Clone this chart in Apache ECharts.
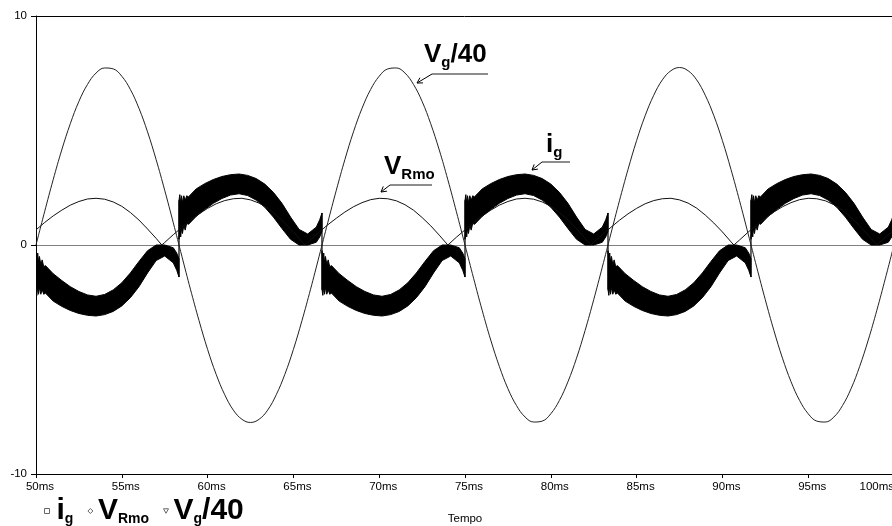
<!DOCTYPE html>
<html>
<head>
<meta charset="utf-8">
<script src="https://cdn.jsdelivr.net/npm/echarts@6/dist/echarts.min.js"></script>
<style>
  html, body { margin: 0; padding: 0; background: #fff; }
  #chart { width: 892px; height: 526px; }
</style>
</head>
<body>
<div id="chart"></div>
<script>
// 采样时刻 (ms), 每 0.5ms 一个点
const time = Array.from({ length: 101 }, (_, i) => 50 + i * 0.5);

// Vg/40 曲线读数
const vg40 = [
  0, 1.45, 2.85, 4.15, 5.30, 6.27, 7.01, 7.51, 7.73, 7.69,
  7.37, 6.79, 5.97, 4.94, 3.73, 2.39, 0.97, -0.49, -1.93, -3.30,
  -4.56, -5.65, -6.54, -7.21, -7.61, -7.75, -7.61, -7.21, -6.54, -5.65,
  -4.56, -3.30, -1.93, -0.49, 0.97, 2.39, 3.73, 4.94, 5.97, 6.79,
  7.37, 7.69, 7.73, 7.51, 7.01, 6.27, 5.30, 4.15, 2.85, 1.45,
  0, -1.45, -2.85, -4.15, -5.30, -6.27, -7.01, -7.51, -7.73, -7.69,
  -7.37, -6.79, -5.97, -4.94, -3.73, -2.39, -0.97, 0.49, 1.93, 3.30,
  4.56, 5.65, 6.54, 7.21, 7.61, 7.75, 7.61, 7.21, 6.54, 5.65,
  4.56, 3.30, 1.93, 0.49, -0.97, -2.39, -3.73, -4.94, -5.97, -6.79,
  -7.37, -7.69, -7.73, -7.51, -7.01, -6.27, -5.30, -4.15, -2.85, -1.45,
  0
];

// VRmo 曲线读数
const vRmo = [
  0.66, 0.98, 1.27, 1.52, 1.74, 1.90, 2.01, 2.04, 2.00, 1.88,
  1.69, 1.42, 1.09, 0.70, 0.29, 0.11, 0.45, 0.77, 1.08, 1.36,
  1.60, 1.80, 1.94, 2.02, 2.04, 1.97, 1.83, 1.61, 1.31, 0.96,
  0.57, 0.14, 0.22, 0.56, 0.88, 1.17, 1.44, 1.67, 1.85, 1.98,
  2.04, 2.02, 1.93, 1.76, 1.52, 1.20, 0.84, 0.43, 0.00, 0.34,
  0.66, 0.98, 1.27, 1.52, 1.74, 1.90, 2.01, 2.04, 2.00, 1.88,
  1.69, 1.42, 1.09, 0.70, 0.29, 0.11, 0.45, 0.77, 1.08, 1.36,
  1.60, 1.80, 1.94, 2.02, 2.04, 1.97, 1.83, 1.61, 1.31, 0.96,
  0.57, 0.14, 0.22, 0.56, 0.88, 1.17, 1.44, 1.67, 1.85, 1.98,
  2.04, 2.02, 1.93, 1.76, 1.52, 1.20, 0.84, 0.43, 0.00, 0.34,
  0.66
];
// VRmo 过零尖点 (ms)
const vRmoZeros = [57.33, 65.67, 82.33, 90.67];

// ig: 每半周期一个波瓣, 读出正波瓣的上下包络
const igLobeStart = [50, 58.333, 66.667, 75, 83.333, 91.667];
const igLobeSign = [-1, 1, -1, 1, -1, 1];
const igTau = [0, 0.05, 0.1, 0.15, 0.2, 0.28, 0.36, 0.45, 0.55, 1.0, 1.5, 2.0, 2.5, 3.0,
  3.5, 4.0, 4.5, 5.0, 5.5, 6.0, 6.5, 7.0, 7.5, 8.0, 8.2, 8.333];
const igLow = [0.25, 0.7, 0.35, 0.75, 0.5, 0.85, 0.65, 0.95, 0.9, 1.25, 1.55, 1.82, 2.03, 2.18,
  2.24, 2.16, 1.96, 1.65, 1.22, 0.72, 0.25, 0.0, 0.0, 0.12, 0.35, 0.6];
const igHigh = [1.95, 2.2, 1.8, 2.15, 1.85, 2.15, 1.95, 2.15, 2.1, 2.45, 2.68, 2.86, 2.99, 3.07,
  3.10, 3.04, 2.90, 2.66, 2.30, 1.82, 1.22, 0.68, 0.48, 0.78, 1.1, 1.4];

const FONT = '"Liberation Sans", Arial, sans-serif';

// 组装数据
const vgData = time.map((t, i) => [t, vg40[i]]);
const vrData = time.map((t, i) => [t, vRmo[i]])
  .concat(vRmoZeros.map(t => [t, 0]))
  .sort((a, b) => a[0] - b[0]);

// 每个波瓣: [t, 下沿, 上沿]
const igLobes = igLobeStart.map((t0, i) => {
  const s = igLobeSign[i];
  return igTau.map((tau, j) => [
    t0 + tau,
    s > 0 ? igLow[j] : -igHigh[j],
    s > 0 ? igHigh[j] : -igLow[j]
  ]);
});

// ig 的纹波带用 custom 系列画成多边形
function renderIg(params, api) {
  const i = params.dataIndex;
  const s = igLobeSign[i];
  const pts = igLobes[i];
  const upper = pts.map(p => api.coord([p[0], p[2]]));
  const lower = pts.map(p => api.coord([p[0], p[1]])).reverse();
  const children = [{
    type: 'polygon',
    shape: { points: upper.concat(lower) },
    style: { fill: '#000', stroke: '#000', lineWidth: 1 }
  }];
  if (i > 0) {
    // 换向处的跳变
    const prev = igLobes[i - 1][igLobes[i - 1].length - 1];
    const a = api.coord([prev[0], s > 0 ? prev[1] : prev[2]]);
    const b = api.coord([pts[0][0], s > 0 ? pts[0][2] : pts[0][1]]);
    children.push({
      type: 'line',
      shape: { x1: a[0], y1: a[1], x2: b[0], y2: b[1] },
      style: { stroke: '#000', lineWidth: 1.2 }
    });
  }
  return { type: 'group', children };
}

// 图中标注: 文字 + 下划线 + 箭头
function callout(text, tx, ty, x1, x2, ly, tipX, tipY) {
  const dx = x1 - tipX, dy = ly - tipY;
  const len = Math.sqrt(dx * dx + dy * dy);
  const ux = dx / len, uy = dy / len;
  const a = Math.PI / 6, h = 6;
  const p1 = [tipX + h * (ux * Math.cos(a) - uy * Math.sin(a)), tipY + h * (ux * Math.sin(a) + uy * Math.cos(a))];
  const p2 = [tipX + h * (ux * Math.cos(a) + uy * Math.sin(a)), tipY + h * (-ux * Math.sin(a) + uy * Math.cos(a))];
  return [
    {
      type: 'text', x: tx, y: ty, z: 10,
      style: {
        text: text, verticalAlign: 'top', align: 'left',
        rich: {
          m: { fontFamily: FONT, fontWeight: 'bold', fontSize: 26, lineHeight: 26, verticalAlign: 'top', fill: '#000' },
          s: { fontFamily: FONT, fontWeight: 'bold', fontSize: 15, lineHeight: 15, verticalAlign: 'top', padding: [13, 0, 0, 0], fill: '#000' }
        }
      }
    },
    {
      type: 'polyline', z: 10,
      shape: { points: [[x2, ly], [x1, ly]] },
      style: { stroke: '#666', lineWidth: 1.5, fill: null }
    },
    {
      type: 'polyline', z: 10,
      shape: { points: [[x1, ly], [tipX, tipY]] },
      style: { stroke: '#000', lineWidth: 1, fill: null }
    },
    {
      type: 'polyline', z: 10,
      shape: { points: [p1, [tipX, tipY], p2] },
      style: { stroke: '#000', lineWidth: 1, fill: null }
    }
  ];
}

const legendText = {
  'ig': '{m0|i}{s|g}',
  'VRmo': '{m|V}{s|Rmo}',
  'Vg/40': '{m|V}{s|g}{m|/40}'
};

const iconStyle = { color: '#fff', borderColor: '#666', borderWidth: 1 };

const option = {
  animation: false,
  backgroundColor: '#fff',
  grid: { left: 36, right: -2, top: 16, bottom: 52, containLabel: false, outerBoundsMode: 'none' },
  legend: {
    left: 39,
    top: 491,
    itemWidth: 5,
    itemHeight: 5,
    itemGap: 14,
    selectedMode: false,
    data: [
      { name: 'ig', icon: 'rect', itemStyle: iconStyle },
      { name: 'VRmo', icon: 'diamond', itemStyle: iconStyle },
      { name: 'Vg/40', icon: 'path://M0,0L10,0L5,9Z', itemStyle: iconStyle }
    ],
    formatter: name => legendText[name],
    textStyle: {
      rich: {
        m0: { fontFamily: FONT, fontWeight: 'bold', fontSize: 30, lineHeight: 30, verticalAlign: 'top', color: '#000', padding: [0, 0, 0, 2] },
        m: { fontFamily: FONT, fontWeight: 'bold', fontSize: 30, lineHeight: 30, verticalAlign: 'top', color: '#000' },
        s: { fontFamily: FONT, fontWeight: 'bold', fontSize: 14, lineHeight: 14, verticalAlign: 'top', padding: [16, 0, 0, 0], color: '#000' }
      }
    }
  },
  xAxis: {
    type: 'value',
    min: 50,
    max: 100,
    interval: 5,
    name: 'Tempo',
    nameLocation: 'middle',
    nameGap: 39,
    nameTextStyle: { fontFamily: FONT, fontSize: 11.5, color: '#000' },
    axisLine: { onZero: false, lineStyle: { color: '#000', width: 1 } },
    axisTick: { length: 4, lineStyle: { color: '#000' } },
    axisLabel: {
      formatter: '{value}ms',
      fontFamily: FONT, fontSize: 11.5, color: '#000',
      margin: 7, padding: [0, 0, 0, 8],
      alignMaxLabel: 'right'
    },
    splitLine: { show: false }
  },
  yAxis: {
    type: 'value',
    min: -10,
    max: 10,
    interval: 10,
    axisLine: { show: true, lineStyle: { color: '#000', width: 1 } },
    axisTick: { show: true, length: 5, lineStyle: { color: '#000' } },
    axisLabel: { fontFamily: FONT, fontSize: 11.5, color: '#000', margin: 9 },
    splitLine: { show: true, lineStyle: { color: ['#000', '#808080', '#000'], width: 1 } }
  },
  graphic: [].concat(
    callout('{m|V}{s|g}{m|/40}', 424, 42, 432, 488, 74, 417, 83),
    callout('{m|V}{s|Rmo}', 384, 154, 390, 432, 185, 381, 192),
    callout('{m|i}{s|g}', 546, 132, 542, 570, 162, 532, 170)
  ),
  series: [
    {
      name: 'VRmo',
      type: 'line',
      data: vrData,
      symbol: 'none',
      lineStyle: { color: '#111', width: 1 },
      itemStyle: { color: '#111' }
    },
    {
      name: 'Vg/40',
      type: 'line',
      data: vgData,
      symbol: 'none',
      smooth: 0.4,
      lineStyle: { color: '#222', width: 1 },
      itemStyle: { color: '#222' }
    },
    {
      name: 'ig',
      type: 'custom',
      clip: true,
      renderItem: renderIg,
      itemStyle: { color: '#000' },
      encode: { x: 0, y: 1 },
      data: igLobeStart.map((t0, i) => [t0, igLobeSign[i]])
    }
  ]
};

const chart = echarts.init(document.getElementById('chart'));
chart.setOption(option);
</script>
</body>
</html>
